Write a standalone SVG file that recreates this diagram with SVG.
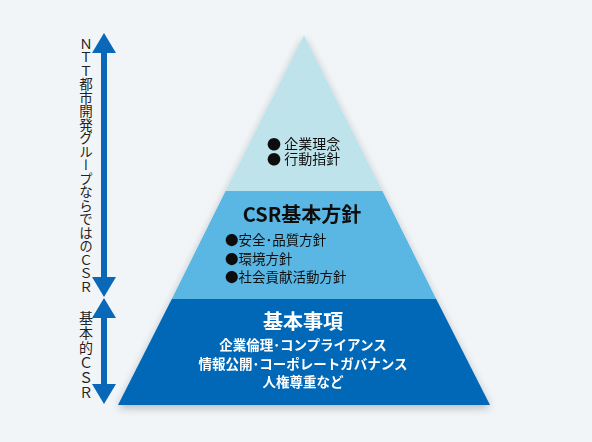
<svg xmlns="http://www.w3.org/2000/svg" width="592" height="442" viewBox="0 0 592 442">
  <defs>
    <filter id="shadow" x="-10%" y="-10%" width="120%" height="125%">
      <feGaussianBlur in="SourceAlpha" stdDeviation="4"/>
      <feOffset dx="0" dy="3" result="b"/>
      <feComponentTransfer><feFuncA type="linear" slope="0.25"/></feComponentTransfer>
      <feMerge><feMergeNode/><feMergeNode in="SourceGraphic"/></feMerge>
    </filter>
    <style>
      .jp { font-family: "Noto Sans CJK JP", "Noto Sans", sans-serif; }
      .dark { fill: #111111; }
      .white { fill: #ffffff; }
      .vert { writing-mode: vertical-rl; font-size: 13.5px; fill: #222222; }
      .arrow { fill: #0a68b8; }
    </style>
  </defs>
  <rect width="592" height="442" fill="#f1f5f8"/>

  <g id="pyramid" filter="url(#shadow)">
    <g id="tier-top">
      <polygon points="304,35 225.6,191 382.4,191" fill="#bee3ea"/>
      <text class="jp dark" font-size="14" x="267" y="149">● 企業理念</text>
      <text class="jp dark" font-size="14" x="267" y="164">● 行動指針</text>
    </g>
    <g id="tier-middle">
      <polygon points="225.6,191 382.4,191 436.2,299 171.8,299" fill="#5ab6e3"/>
      <text class="jp dark" font-size="20" font-weight="bold" x="302" y="222" text-anchor="middle">CSR基本方針</text>
      <text class="jp dark" font-size="13.5" x="225" y="245">●安全･品質方針</text>
      <text class="jp dark" font-size="13.5" x="225" y="264">●環境方針</text>
      <text class="jp dark" font-size="13.5" x="225" y="282">●社会貢献活動方針</text>
    </g>
    <g id="tier-bottom">
      <polygon points="171.8,299 436.2,299 490,405 118,405" fill="#0068b7"/>
      <text class="jp white" font-size="20" font-weight="bold" x="303" y="329" text-anchor="middle">基本事項</text>
      <text class="jp white" font-size="13.5" font-weight="bold" x="303" y="350" text-anchor="middle">企業倫理･コンプライアンス</text>
      <text class="jp white" font-size="13.5" font-weight="bold" x="303" y="369" text-anchor="middle">情報公開･コーポレートガバナンス</text>
      <text class="jp white" font-size="13.5" font-weight="bold" x="303" y="387" text-anchor="middle">人権尊重など</text>
    </g>
  </g>

  <g id="connectors">
    <g id="arrow-ntt">
      <rect class="arrow" x="101" y="50" width="6" height="230"/>
      <polygon class="arrow" points="104,33 92,53 116,53"/>
      <polygon class="arrow" points="92,277 116,277 104,297"/>
    </g>
    <g id="arrow-basic">
      <rect class="arrow" x="101" y="315" width="6" height="72"/>
      <polygon class="arrow" points="104,298 92,318 116,318"/>
      <polygon class="arrow" points="92,384 116,384 104,404"/>
    </g>
  </g>

  <g id="label-ntt">
    <text class="jp vert" x="86" y="37">ＮＴＴ都市開発グループならではのＣＳＲ</text>
  </g>
  <g id="label-basic">
    <text class="jp vert" x="86" y="311" style="font-size:14px; letter-spacing:1px">基本的ＣＳＲ</text>
  </g>
</svg>
